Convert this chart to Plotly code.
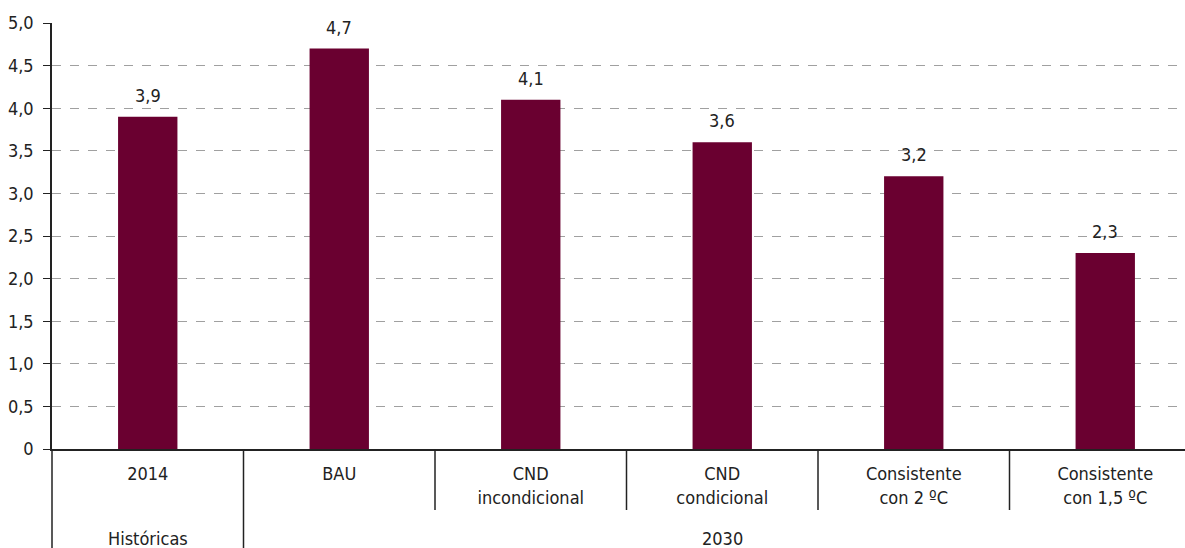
import plotly.graph_objects as go

# data
categories = ["2014", "BAU", "CND<br>incondicional", "CND<br>condicional",
              "Consistente<br>con 2 ºC", "Consistente<br>con 1,5 ºC"]
values = [3.9, 4.7, 4.1, 3.6, 3.2, 2.3]
value_labels = ["3,9", "4,7", "4,1", "3,6", "3,2", "2,3"]
groups = ["Históricas", "2030"]
group_members = [[0], [1, 2, 3, 4, 5]]
ytick_vals = [0, 0.5, 1, 1.5, 2, 2.5, 3, 3.5, 4, 4.5, 5]
ytick_text = ["0", "0,5", "1,0", "1,5", "2,0", "2,5", "3,0", "3,5", "4,0", "4,5", "5,0"]

FONT = "Liberation Sans Narrow, DejaVu Sans Condensed, Roboto, sans-serif"
BAR = "#6a0030"
TXT = "#222"
W, H = 1185, 548
ML, MT, MB = 52, 23, 99
plot_h = H - MT - MB
cat_px = 191.5
xs = list(range(len(categories)))

fig = go.Figure()
fig.add_trace(go.Bar(
    x=xs, y=values, marker=dict(color=BAR, line_width=0), width=0.31,
    hoverinfo="skip"))

# value labels sit a little higher than plotly's default bar text
for x, v, lab in zip(xs, values, value_labels):
    fig.add_annotation(x=x, y=v, text=lab, showarrow=False, yanchor="bottom",
                       yshift=9, font=dict(size=18, color=TXT, family=FONT))

# separators below the axis
row1 = -61 / plot_h
row2 = -MB / plot_h
line = dict(color=TXT, width=1.5)
fig.add_shape(type="line", xref="paper", yref="paper", x0=0, x1=0, y0=0, y1=row2, line=line)
for i in xs[:-1]:
    bottom = row2 if i == group_members[0][-1] else row1
    fig.add_shape(type="line", xref="x", yref="paper", x0=i + 0.5, x1=i + 0.5,
                  y0=0, y1=bottom, line=line)

for name, members in zip(groups, group_members):
    fig.add_annotation(x=sum(members) / len(members), xref="x", y=row2, yref="paper",
                       yanchor="bottom", yshift=-3, text=name, showarrow=False,
                       font=dict(size=18, color=TXT, family=FONT))

plot_w = W - ML
fig.update_layout(
    width=W, height=H, margin=dict(l=ML, r=0, t=MT, b=MB, autoexpand=False),
    plot_bgcolor="white", paper_bgcolor="white", showlegend=False,
    font=dict(family=FONT, size=18, color=TXT),
    xaxis=dict(range=[-0.5, -0.5 + plot_w / cat_px], tickvals=xs, ticktext=categories,
               showgrid=False, showline=True, linecolor=TXT, linewidth=1.5,
               ticks="", ticklabelstandoff=8, zeroline=False, automargin=False),
    yaxis=dict(range=[0, 5], tickvals=ytick_vals, ticktext=ytick_text,
               showgrid=True, gridcolor="#a0a0a0", griddash="dash", gridwidth=1,
               showline=True, linecolor=TXT, linewidth=1.5, automargin=False,
               ticks="outside", ticklen=7, tickcolor=TXT, zeroline=False,
               ticklabelstandoff=6),
)

# the default page has an 8px body margin; drop it so the figure fills the window
fig.write_html("out.html", config={"displayModeBar": False},
               post_script="document.body.style.margin='0';")
